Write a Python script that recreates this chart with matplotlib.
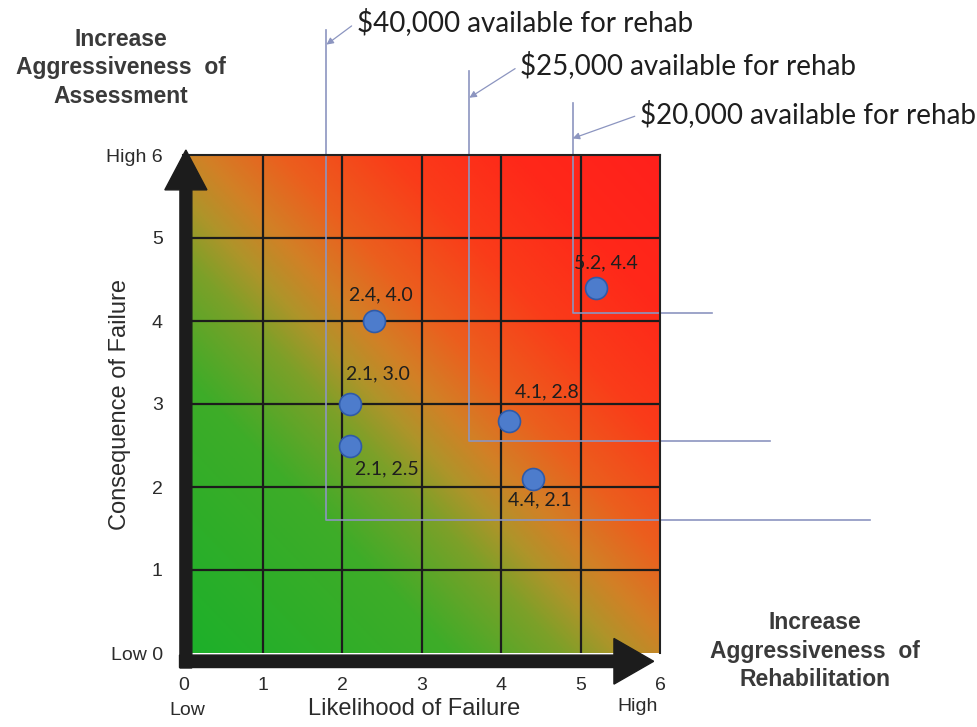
import numpy as np
import matplotlib.pyplot as plt
from matplotlib.colors import LinearSegmentedColormap
from matplotlib.patches import FancyArrow

# pipes : likelihood (x) / consequence (y)
likelihood = [2.4, 2.1, 2.1, 4.1, 4.4, 5.2]
consequence = [4.0, 3.0, 2.5, 2.8, 2.1, 4.4]
point_labels = ["2.4, 4.0", "2.1, 3.0", "2.1, 2.5", "4.1, 2.8", "4.4, 2.1", "5.2, 4.4"]

# budget limits
budget_labels = [r"\$40,000 available for rehab", r"\$25,000 available for rehab", r"\$20,000 available for rehab"]
budget_x = [1.8, 3.6, 4.9]
budget_y = [1.6, 2.55, 4.1]

ticks = [0, 1, 2, 3, 4, 5, 6]
x_tick_labels = ["0", "1", "2", "3", "4", "5", "6"]
y_tick_labels = ["Low 0", "1", "2", "3", "4", "5", "High 6"]

# layout (offsets in pixels, positions in data units)
label_offsets = [(7, 26), (28, 30), (37, -23), (38, 29), (7, -21), (9, 25)]
line_top = [7.51, 7.01, 6.63]
line_end = [8.64, 7.38, 6.65]
arrow_head_y = [7.33, 6.69, 6.20]
budget_text_pos = [(2.18, 7.60), (4.24, 7.08), (5.75, 6.49)]

ARIAL = "Liberation Sans"
CALIBRI = "Lato"
TXT = "#2b2b2b"
BLUE_LINE = "#8c95c0"

fig = plt.figure(figsize=(9.78, 7.27), dpi=100)
ax = fig.add_axes([183.5 / 978, 74 / 727, 476.5 / 978, 498 / 727])

# fond en dégradé vert -> orange -> rouge (diagonale)
cmap = LinearSegmentedColormap.from_list("risk", [
    (0.00, (28/255, 176/255, 42/255)),
    (0.28, (62/255, 172/255, 40/255)),
    (0.40, (125/255, 160/255, 40/255)),
    (0.46, (175/255, 148/255, 42/255)),
    (0.52, (210/255, 128/255, 38/255)),
    (0.60, (235/255, 95/255, 30/255)),
    (0.72, (250/255, 60/255, 25/255)),
    (0.85, (255/255, 40/255, 25/255)),
    (1.00, (255/255, 32/255, 28/255)),
])
gx, gy = np.meshgrid(np.linspace(0, 6, 300), np.linspace(0, 6, 300))
ax.imshow((gx + gy) / 12, extent=(0, 6, 0, 6), origin="lower", cmap=cmap,
          vmin=0, vmax=1, aspect="auto", zorder=0)

for v in ticks[1:-1]:
    ax.axvline(v, color="#1c1c1c", lw=1.6, zorder=1)
    ax.axhline(v, color="#1c1c1c", lw=1.6, zorder=1)

ax.set_xlim(0, 6)
ax.set_ylim(0, 6)
for s in ["left", "bottom"]:
    ax.spines[s].set_visible(False)
for s in ["top", "right"]:
    ax.spines[s].set_color("#222222")
    ax.spines[s].set_linewidth(1.5)

ax.set_xticks(ticks, x_tick_labels)
ax.set_yticks(ticks, y_tick_labels)
ax.tick_params(length=0)
ax.tick_params(axis="x", pad=17)
ax.tick_params(axis="y", pad=15)
for lab in ax.get_xticklabels() + ax.get_yticklabels():
    lab.set_fontfamily(ARIAL)
    lab.set_fontsize(14)
    lab.set_color(TXT)

# lignes de budget
for i in range(len(budget_x)):
    ax.plot([budget_x[i], budget_x[i], line_end[i]], [line_top[i], budget_y[i], budget_y[i]],
            color=BLUE_LINE, lw=1.2, clip_on=False, zorder=2)
    ax.annotate(budget_labels[i], xy=(budget_x[i], arrow_head_y[i]), xytext=budget_text_pos[i],
                ha="left", va="center", fontsize=20, family=CALIBRI, color="#1e1e1e",
                annotation_clip=False,
                arrowprops=dict(arrowstyle="-|>", color=BLUE_LINE, lw=0.9, relpos=(0, 0.5),
                                shrinkA=2, shrinkB=0, mutation_scale=10))

# flèches des axes
ax.add_patch(FancyArrow(0.03, -0.18, 0, 6.24, width=0.15, head_width=0.53, head_length=0.48,
                        length_includes_head=True, color="#1c1c1c", clip_on=False, zorder=5))
ax.add_patch(FancyArrow(-0.05, -0.1, 5.97, 0, width=0.15, head_width=0.55, head_length=0.5,
                        length_includes_head=True, color="#1c1c1c", clip_on=False, zorder=5))

# conduites
ax.scatter(likelihood, consequence, s=250, color="#4d7ccc", edgecolor="#2f5aa8",
           linewidth=1.2, zorder=6)
for i in range(len(likelihood)):
    ax.annotate(point_labels[i], (likelihood[i], consequence[i]), xytext=label_offsets[i],
                textcoords="offset pixels", ha="center", va="center", fontsize=14,
                family=CALIBRI, color="#1e1e1e", zorder=7)

# titres des axes
ax.text(2.91, -0.67, "Likelihood of Failure", ha="center", va="center", fontsize=17,
        family=ARIAL, color=TXT, clip_on=False)
ax.text(0.05, -0.69, "Low", ha="center", va="center", fontsize=14, family=ARIAL, color=TXT, clip_on=False)
ax.text(5.72, -0.65, "High", ha="center", va="center", fontsize=14, family=ARIAL, color=TXT, clip_on=False)
ax.text(-0.80, 2.99, "Consequence of Failure", rotation=90, ha="center", va="center",
        fontsize=17, family=ARIAL, color=TXT, clip_on=False)

ax.text(-0.79, 7.05, "Increase\nAggressiveness  of\nAssessment", ha="center", va="center",
        fontsize=16.5, fontweight="bold", family=ARIAL, color="#3a3a3a", linespacing=1.3, clip_on=False)
ax.text(7.95, 0.02, "Increase\nAggressiveness  of\nRehabilitation", ha="center", va="center",
        fontsize=16.5, fontweight="bold", family=ARIAL, color="#3a3a3a", linespacing=1.3, clip_on=False)

fig.savefig("out.png", dpi=100)
